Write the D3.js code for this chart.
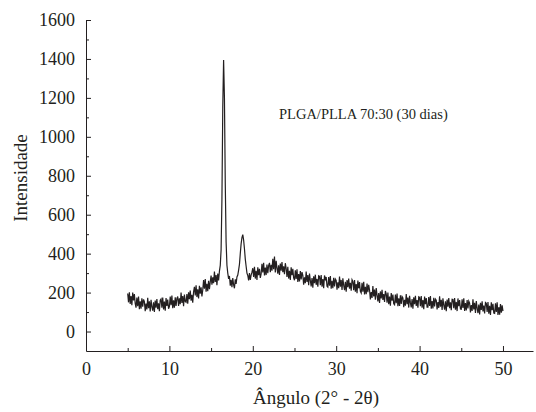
<!DOCTYPE html>
<html>
<head>
<meta charset="utf-8">
<script src="https://cdn.jsdelivr.net/npm/d3@7"></script>
<style>
  body { margin: 0; background: #fff; }
  svg text { font-family: "Liberation Serif", "DejaVu Serif", serif; fill: #231f20; }
</style>
</head>
<body>
<script>
const width = 536;
const height = 412;

// 2theta angles (0.1 deg scan) and intensities
const angle = [
  5.0, 5.1, 5.2, 5.3, 5.4, 5.5, 5.6, 5.7, 5.8, 5.9,
  6.0, 6.1, 6.2, 6.3, 6.4, 6.5, 6.6, 6.7, 6.8, 6.9,
  7.0, 7.1, 7.2, 7.3, 7.4, 7.5, 7.6, 7.7, 7.8, 7.9,
  8.0, 8.1, 8.2, 8.3, 8.4, 8.5, 8.6, 8.7, 8.8, 8.9,
  9.0, 9.1, 9.2, 9.3, 9.4, 9.5, 9.6, 9.7, 9.8, 9.9,
  10.0, 10.1, 10.2, 10.3, 10.4, 10.5, 10.6, 10.7, 10.8, 10.9,
  11.0, 11.1, 11.2, 11.3, 11.4, 11.5, 11.6, 11.7, 11.8, 11.9,
  12.0, 12.1, 12.2, 12.3, 12.4, 12.5, 12.6, 12.7, 12.8, 12.9,
  13.0, 13.1, 13.2, 13.3, 13.4, 13.5, 13.6, 13.7, 13.8, 13.9,
  14.0, 14.1, 14.2, 14.3, 14.4, 14.5, 14.6, 14.7, 14.8, 14.9,
  15.0, 15.1, 15.2, 15.3, 15.4, 15.5, 15.6, 15.7, 15.8, 15.9,
  16.0, 16.1, 16.2, 16.3, 16.4, 16.5, 16.6, 16.7, 16.8, 16.9,
  17.0, 17.1, 17.2, 17.3, 17.4, 17.5, 17.6, 17.7, 17.8, 17.9,
  18.0, 18.1, 18.2, 18.3, 18.4, 18.5, 18.6, 18.7, 18.8, 18.9,
  19.0, 19.1, 19.2, 19.3, 19.4, 19.5, 19.6, 19.7, 19.8, 19.9,
  20.0, 20.1, 20.2, 20.3, 20.4, 20.5, 20.6, 20.7, 20.8, 20.9,
  21.0, 21.1, 21.2, 21.3, 21.4, 21.5, 21.6, 21.7, 21.8, 21.9,
  22.0, 22.1, 22.2, 22.3, 22.4, 22.5, 22.6, 22.7, 22.8, 22.9,
  23.0, 23.1, 23.2, 23.3, 23.4, 23.5, 23.6, 23.7, 23.8, 23.9,
  24.0, 24.1, 24.2, 24.3, 24.4, 24.5, 24.6, 24.7, 24.8, 24.9,
  25.0, 25.1, 25.2, 25.3, 25.4, 25.5, 25.6, 25.7, 25.8, 25.9,
  26.0, 26.1, 26.2, 26.3, 26.4, 26.5, 26.6, 26.7, 26.8, 26.9,
  27.0, 27.1, 27.2, 27.3, 27.4, 27.5, 27.6, 27.7, 27.8, 27.9,
  28.0, 28.1, 28.2, 28.3, 28.4, 28.5, 28.6, 28.7, 28.8, 28.9,
  29.0, 29.1, 29.2, 29.3, 29.4, 29.5, 29.6, 29.7, 29.8, 29.9,
  30.0, 30.1, 30.2, 30.3, 30.4, 30.5, 30.6, 30.7, 30.8, 30.9,
  31.0, 31.1, 31.2, 31.3, 31.4, 31.5, 31.6, 31.7, 31.8, 31.9,
  32.0, 32.1, 32.2, 32.3, 32.4, 32.5, 32.6, 32.7, 32.8, 32.9,
  33.0, 33.1, 33.2, 33.3, 33.4, 33.5, 33.6, 33.7, 33.8, 33.9,
  34.0, 34.1, 34.2, 34.3, 34.4, 34.5, 34.6, 34.7, 34.8, 34.9,
  35.0, 35.1, 35.2, 35.3, 35.4, 35.5, 35.6, 35.7, 35.8, 35.9,
  36.0, 36.1, 36.2, 36.3, 36.4, 36.5, 36.6, 36.7, 36.8, 36.9,
  37.0, 37.1, 37.2, 37.3, 37.4, 37.5, 37.6, 37.7, 37.8, 37.9,
  38.0, 38.1, 38.2, 38.3, 38.4, 38.5, 38.6, 38.7, 38.8, 38.9,
  39.0, 39.1, 39.2, 39.3, 39.4, 39.5, 39.6, 39.7, 39.8, 39.9,
  40.0, 40.1, 40.2, 40.3, 40.4, 40.5, 40.6, 40.7, 40.8, 40.9,
  41.0, 41.1, 41.2, 41.3, 41.4, 41.5, 41.6, 41.7, 41.8, 41.9,
  42.0, 42.1, 42.2, 42.3, 42.4, 42.5, 42.6, 42.7, 42.8, 42.9,
  43.0, 43.1, 43.2, 43.3, 43.4, 43.5, 43.6, 43.7, 43.8, 43.9,
  44.0, 44.1, 44.2, 44.3, 44.4, 44.5, 44.6, 44.7, 44.8, 44.9,
  45.0, 45.1, 45.2, 45.3, 45.4, 45.5, 45.6, 45.7, 45.8, 45.9,
  46.0, 46.1, 46.2, 46.3, 46.4, 46.5, 46.6, 46.7, 46.8, 46.9,
  47.0, 47.1, 47.2, 47.3, 47.4, 47.5, 47.6, 47.7, 47.8, 47.9,
  48.0, 48.1, 48.2, 48.3, 48.4, 48.5, 48.6, 48.7, 48.8, 48.9,
  49.0, 49.1, 49.2, 49.3, 49.4, 49.5, 49.6, 49.7, 49.8, 49.9,
  50.0
];
const intensity = [
  195, 150, 202, 142, 182, 135, 200, 160, 192, 145,
  123, 175, 130, 180, 115, 155, 117, 171, 127, 165,
  153, 105, 143, 113, 173, 120, 155, 103, 163, 127,
  107, 150, 100, 159, 123, 167, 115, 145, 105, 161,
  167, 122, 174, 114, 154, 107, 172, 132, 164, 117,
  128, 180, 135, 185, 120, 160, 122, 176, 132, 170,
  180, 132, 170, 140, 200, 147, 182, 130, 190, 154,
  150, 193, 143, 202, 166, 210, 158, 188, 148, 204,
  230, 185, 237, 177, 217, 170, 235, 195, 227, 180,
  213, 265, 220, 270, 205, 245, 207, 261, 217, 255,
  288, 240, 278, 248, 308, 255, 290, 238, 298, 262,
  310, 340, 420, 680, 1150, 1395, 1200, 760, 460, 340,
  300, 270, 285, 235, 265, 228, 275, 240, 222, 268,
  245, 280, 290, 315, 345, 400, 450, 482, 498, 470,
  425, 372, 335, 300, 288, 262, 300, 265, 290, 305,
  325, 280, 332, 272, 312, 265, 330, 290, 322, 275,
  296, 348, 303, 353, 288, 328, 290, 344, 300, 338,
  353, 305, 343, 313, 373, 320, 385, 303, 363, 327,
  297, 340, 290, 349, 313, 357, 305, 335, 295, 351,
  325, 280, 332, 272, 312, 265, 330, 290, 322, 275,
  263, 315, 270, 320, 255, 295, 257, 311, 267, 305,
  288, 240, 278, 248, 308, 255, 290, 238, 298, 262,
  232, 275, 225, 284, 248, 292, 240, 270, 230, 286,
  283, 238, 290, 230, 270, 223, 288, 268, 280, 233,
  228, 280, 235, 285, 220, 260, 222, 276, 232, 270,
  263, 215, 253, 223, 283, 230, 265, 213, 273, 237,
  212, 255, 205, 264, 228, 272, 220, 250, 210, 266,
  257, 212, 264, 204, 244, 197, 262, 222, 254, 207,
  198, 250, 205, 255, 190, 230, 192, 246, 202, 240,
  213, 165, 203, 173, 233, 180, 215, 163, 223, 187,
  154, 197, 147, 206, 170, 214, 162, 192, 152, 208,
  193, 148, 200, 140, 180, 133, 198, 158, 190, 143,
  138, 190, 145, 195, 130, 170, 132, 186, 142, 180,
  173, 125, 163, 133, 193, 140, 175, 123, 183, 147,
  124, 167, 117, 176, 140, 184, 132, 162, 122, 178,
  175, 130, 182, 122, 162, 115, 180, 140, 172, 125,
  125, 177, 132, 182, 117, 157, 119, 173, 129, 167,
  161, 113, 151, 121, 181, 128, 163, 111, 171, 135,
  112, 155, 105, 164, 128, 172, 120, 150, 110, 166,
  165, 120, 172, 112, 152, 105, 170, 130, 162, 115,
  114, 166, 121, 171, 106, 146, 108, 162, 118, 156,
  146, 98, 136, 106, 166, 113, 148, 96, 156, 120,
  95, 138, 88, 147, 111, 155, 103, 133, 93, 149,
  145, 100, 152, 92, 132, 85, 150, 110, 142, 95,
  93, 145, 100, 150, 85, 125, 87, 141, 97, 135,
  105
];

const xMajor = [0, 10, 20, 30, 40, 50];
const xMinor = [5, 15, 25, 35, 45];
const yMajor = [0, 200, 400, 600, 800, 1000, 1200, 1400, 1600];
const yMinor = [100, 300, 500, 700, 900, 1100, 1300, 1500];

const ink = "#231f20";

const svg = d3.select("body")
    .append("svg")
    .attr("width", width)
    .attr("height", height);

const x = d3.scaleLinear().domain([0, 53.6]).range([86, 533]);
const y = d3.scaleLinear().domain([-100, 1600]).range([351, 20]);

// minor ticks (no labels)
svg.append("g")
    .attr("transform", `translate(0,${y(-100)})`)
    .call(d3.axisBottom(x).tickValues(xMinor).tickSize(-3).tickSizeOuter(0).tickFormat(""))
    .call(g => g.select(".domain").remove());

svg.append("g")
    .attr("transform", `translate(${x(0)},0)`)
    .call(d3.axisLeft(y).tickValues(yMinor).tickSize(-3).tickSizeOuter(0).tickFormat(""))
    .call(g => g.select(".domain").remove());

// major ticks and labels
svg.append("g")
    .attr("transform", `translate(0,${y(-100)})`)
    .call(d3.axisBottom(x).tickValues(xMajor).tickSize(-5).tickSizeOuter(0)
        .tickPadding(11).tickFormat(d3.format("d")));

svg.append("g")
    .attr("transform", `translate(${x(0)},0)`)
    .call(d3.axisLeft(y).tickValues(yMajor).tickSize(-5).tickSizeOuter(0)
        .tickPadding(11).tickFormat(d3.format("d")));

svg.selectAll("g").attr("font-family", null).attr("font-size", null);
svg.selectAll(".tick line").attr("stroke", ink);
svg.selectAll(".domain").attr("stroke", ink);
svg.selectAll(".tick text")
    .style("font-size", "18px")
    .attr("fill", ink);

// the pattern
const line = d3.line()
    .x((d, i) => x(angle[i]))
    .y(d => y(d));

svg.append("path")
    .datum(intensity)
    .attr("fill", "none")
    .attr("stroke", ink)
    .attr("stroke-width", 1.2)
    .attr("d", line);

// labels
svg.append("text")
    .attr("x", 316)
    .attr("y", 404)
    .attr("text-anchor", "middle")
    .style("font-size", "19px")
    .text("Ângulo (2° - 2θ)");

svg.append("text")
    .attr("transform", "translate(27,178) rotate(-90)")
    .attr("text-anchor", "middle")
    .style("font-size", "19px")
    .text("Intensidade");

svg.append("text")
    .attr("x", 279)
    .attr("y", 119)
    .style("font-size", "14.5px")
    .text("PLGA/PLLA 70:30 (30 dias)");
</script>
</body>
</html>
